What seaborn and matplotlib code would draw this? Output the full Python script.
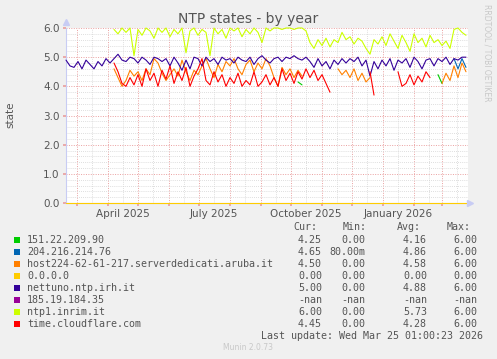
import numpy as np
import pandas as pd
import matplotlib
matplotlib.use("Agg")
import matplotlib.pyplot as plt
import matplotlib.dates as mdates
from matplotlib.ticker import MultipleLocator, FuncFormatter, NullFormatter
from matplotlib.patches import Rectangle
import seaborn as sns

N = np.nan

# one sample every 4 days, starting 2025-02-18
days = list(range(0, 401, 4))

names = ["151.22.209.90", "204.216.214.76",
         "host224-62-61-217.serverdedicati.aruba.it", "0.0.0.0",
         "nettuno.ntp.irh.it", "185.19.184.35", "ntp1.inrim.it",
         "time.cloudflare.com"]
colors = ["#00cc00", "#0066b3", "#ff8000", "#ffcc00",
          "#330099", "#990099", "#ccff00", "#ff0000"]

green = ([N] * 58 + [4.15, 4.05] + [N] * 33 + [4.4, 4.1] + [N] * 6)
blue = [N] * 97 + [4.95, 4.6, 4.95, 4.65]
orange = ([N] * 12
          + [4.6, 4.3, 4.0, 4.2, 4.55, 4.35, 4.5, 4.2]
          + [4.6, 4.4, 4.95, 4.8, 4.45, 4.2, 4.4, 4.6, 4.35, 4.9]
          + [4.5, 4.2, 4.55, 4.4, 4.7, 4.95, 4.6, 4.3, 4.75, 4.5]
          + [4.85, 4.7, 4.95, 4.6, 4.4, 4.75, 4.9, 4.5, 4.8, 4.6]
          + [4.95, 4.7, 4.3, 4.0, 4.65, 4.4, 4.6, 4.3, 4.55, 4.35]
          + [N] * 8 + [4.6, 4.4]
          + [4.55, 4.3, 4.6, 4.2, 4.45, 4.15, 4.3, N, N, N]
          + [N] * 10
          + [N, N, N, N, 4.1, 4.45, 4.2, 4.7, 4.3, 4.8]
          + [4.5])
zero_host = [0.0] * 101
nettuno = ([4.9, 4.7, 4.65, 4.85, 4.6, 4.9, 4.75, 4.6, 4.85, 4.7]
           + [4.95, 4.8, 4.95, 5.1, 4.9, 4.85, 5.0, 4.95, 4.8, 5.0]
           + [4.9, 4.75, 5.0, 4.95, 4.85, 4.95, 4.7, 5.0, 4.8, 4.55]
           + [4.9, 4.6, 5.0, 4.95, 4.7, 5.0, 4.85, 4.95, 4.75, 5.0]
           + [4.9, 4.95, 4.8, 5.0, 4.9, 4.85, 5.0, 4.75, 4.95, 5.05]
           + [4.9, 4.8, 4.95, 5.0, 4.85, 5.0, 4.95, 5.05, 4.95, 4.9]
           + [5.0, 4.85, 4.65, 4.95, 4.7, 4.85, 4.6, 4.9, 4.75, 4.95]
           + [4.8, 4.95, 4.85, 5.0, 4.7, 4.9, 4.35, 4.85, 4.6, 4.9]
           + [4.7, 4.95, 4.55, 4.9, 4.8, 4.95, 4.65, 5.0, 4.85, 4.6]
           + [4.9, 4.95, 4.7, 4.95, 4.85, 5.0, 4.75, 4.95, 4.9, 5.0]
           + [5.0])
magenta = [N] * 101
ntp1 = ([N] * 12
        + [5.95, 5.8, 6.0, 5.85, 6.0, 5.05, 5.95, 5.75]
        + [6.0, 5.9, 5.65, 6.0, 5.85, 6.0, 5.7, 5.95, 5.8, 6.0]
        + [5.15, 5.9, 6.0, 5.75, 5.95, 5.85, 5.05, 6.0, 5.8, 5.95]
        + [5.65, 6.0, 5.9, 6.0, 5.7, 5.95, 5.8, 6.0, 5.85, 5.5]
        + [6.0, 5.9, 6.0, 6.0, 5.95, 6.0, 6.0, 5.95, 6.0, 6.0]
        + [5.9, 5.5, 5.3, 5.6, 5.4, 5.65, 5.35, 5.6, 5.5, 5.85]
        + [5.6, 5.7, 5.45, 5.65, 5.55, 5.3, 5.1, 5.6, 5.45, 5.7]
        + [5.4, 5.8, 5.55, 5.3, 5.75, 5.5, 5.2, 5.8, 5.5, 5.65]
        + [5.35, 5.75, 5.5, 5.6, 5.4, 5.55, 5.3, 5.95, 6.0, 5.85]
        + [5.75])
cloudflare = ([N] * 12
              + [4.8, 4.5, 4.1, 4.0, 4.3, 4.05, 4.4, 4.0]
              + [4.6, 4.2, 4.45, 4.0, 4.55, 4.25, 4.7, 4.1, 4.5, 4.2]
              + [4.65, 4.0, 4.35, 4.6, 4.95, 4.2, 4.05, 4.5, 4.15, 4.4]
              + [4.0, 4.3, 4.1, 4.45, 4.0, 4.2, 4.05, 4.5, 4.0, 4.15]
              + [4.4, 4.05, 4.3, 4.0, 4.6, 4.2, 4.45, 4.1, 4.5, 4.25]
              + [4.6, 4.3, 4.55, 4.2, 4.4, 4.1, 3.8, N, N, N]
              + [N, N, N, N, N, N, 4.5, 3.7, N, N]
              + [N, N, N, 4.5, 4.0, 4.1, 4.4, 4.05, 4.35, 4.15]
              + [4.5, 4.3] + [N] * 8
              + [N])

values = [green, blue, orange, zero_host, nettuno, magenta, ntp1, cloudflare]

cur = ["4.25", "4.65", "4.50", "0.00", "5.00", "-nan", "6.00", "4.45"]
mins = ["0.00", "80.00m", "0.00", "0.00", "0.00", "-nan", "0.00", "0.00"]
avgs = ["4.16", "4.86", "4.58", "0.00", "4.88", "-nan", "5.73", "4.28"]
maxs = ["6.00", "6.00", "6.00", "0.00", "6.00", "-nan", "6.00", "6.00"]

# long form, with a segment id so gaps stay gaps
dates = pd.Timestamp("2025-02-18") + pd.to_timedelta(days, unit="D")
frames = []
for name, vals in zip(names, values):
    s = pd.Series(vals, dtype=float)
    part = pd.DataFrame({"date": dates, "value": s, "series": name,
                         "seg": s.isna().cumsum()})
    frames.append(part.dropna())
df = pd.concat(frames, ignore_index=True)

sns.set_theme(style="white")
plt.rcParams["font.family"] = ["DejaVu Sans"]

W, H = 497, 359
fig = plt.figure(figsize=(W / 100, H / 100), dpi=100, facecolor="#f0f0f0")
ax = fig.add_axes([66 / W, 1 - 203 / H, (468 - 66) / W, (203 - 28) / H])
ax.set_facecolor("white")

drawn = [n for n, v in zip(names, values) if not np.all(np.isnan(v))]
sns.lineplot(data=df, x="date", y="value", hue="series", units="seg",
             estimator=None, hue_order=drawn,
             palette=dict(zip(names, colors)), lw=0.8, legend=False, ax=ax)
for line in ax.get_lines():
    line.set_clip_on(False)
    line.set_zorder(3)

ax.set_xlim(pd.Timestamp("2025-02-18"), pd.Timestamp("2026-03-27"))
ax.set_ylim(0, 6.0)

# grid like rrdtool: red major, grey minor, dotted
ax.xaxis.set_major_locator(mdates.MonthLocator())
ax.xaxis.set_major_formatter(NullFormatter())
ax.xaxis.set_minor_locator(mdates.MonthLocator(bymonthday=16))
ax.xaxis.set_minor_formatter(FuncFormatter(
    lambda v, pos: mdates.num2date(v).strftime("%B %Y")
    if mdates.num2date(v).month in (1, 4, 7, 10) else ""))
ax.yaxis.set_major_locator(MultipleLocator(1.0))
ax.yaxis.set_minor_locator(MultipleLocator(0.2))
ax.yaxis.set_major_formatter(FuncFormatter(lambda v, pos: f"{v:.1f}"))

ax.grid(which="major", color="#eaa0a0", ls=(0, (1, 1.5)), lw=0.7)
ax.grid(which="minor", color="#d4d4d4", ls=(0, (1, 1.5)), lw=0.6)
ax.set_axisbelow(True)
ax.tick_params(which="major", axis="both", length=2.5, color="#eaa0a0",
               labelsize=7.5, labelcolor="#555555", pad=2)
ax.tick_params(which="minor", axis="x", length=0, labelsize=7.5,
               labelcolor="#555555", pad=4)
ax.tick_params(which="minor", axis="y", length=0)
ax.tick_params(axis="both", bottom=True, left=True)

ax.set_xlabel("")
ax.set_ylabel("")
for side in ["top", "right"]:
    ax.spines[side].set_visible(False)
ax.spines["left"].set_color("#c8ccf4")
ax.spines["bottom"].set_color("#c8ccf4")
ax.spines["left"].set_linewidth(0.8)
ax.spines["bottom"].set_linewidth(0.8)
ax.spines["bottom"].set_zorder(1)
ax.plot([0], [1.035], marker="^", ms=4, color="#c8ccf4",
        transform=ax.transAxes, clip_on=False)
ax.plot([1.005], [0], marker=">", ms=4, color="#c8ccf4",
        transform=ax.transAxes, clip_on=False)

# texts
fig.text(248 / W, 1 - 19 / H, "NTP states - by year", ha="center",
         va="center", fontsize=10, color="#555555")
fig.text(10 / W, 1 - 115 / H, "state", rotation=90, ha="center",
         va="center", fontsize=7.5, color="#555555")
fig.text(487 / W, 1 - 53 / H, "RRDTOOL / TOBI OETIKER", rotation=270,
         ha="center", va="center", fontsize=5.5, color="#c8c8c8")

mono = dict(family="DejaVu Sans Mono", fontsize=7.2, color="#555555",
            va="center")
fig.text(293 / W, 1 - 227 / H, "Cur:", ha="left", **mono)
fig.text(343 / W, 1 - 227 / H, "Min:", ha="left", **mono)
fig.text(397 / W, 1 - 227 / H, "Avg:", ha="left", **mono)
fig.text(447 / W, 1 - 227 / H, "Max:", ha="left", **mono)

for i, name in enumerate(names):
    y = 240 + 12 * i
    fig.patches.append(Rectangle((14 / W, 1 - (y + 3) / H), 6 / W, 6 / H,
                                 transform=fig.transFigure,
                                 facecolor=colors[i], edgecolor="none"))
    fig.text(27 / W, 1 - y / H, name, ha="left", **mono)
    fig.text(322 / W, 1 - y / H, cur[i], ha="right", **mono)
    fig.text(365 / W, 1 - y / H, mins[i], ha="right", **mono)
    fig.text(427 / W, 1 - y / H, avgs[i], ha="right", **mono)
    fig.text(477 / W, 1 - y / H, maxs[i], ha="right", **mono)

fig.text(483 / W, 1 - 336 / H, "Last update: Wed Mar 25 01:00:23 2026",
         ha="right", **mono)
fig.text(248 / W, 1 - 348 / H, "Munin 2.0.73", ha="center", va="center",
         fontsize=5.5, color="#c8c8c8")

fig.savefig("out.png", dpi=100, facecolor=fig.get_facecolor())
